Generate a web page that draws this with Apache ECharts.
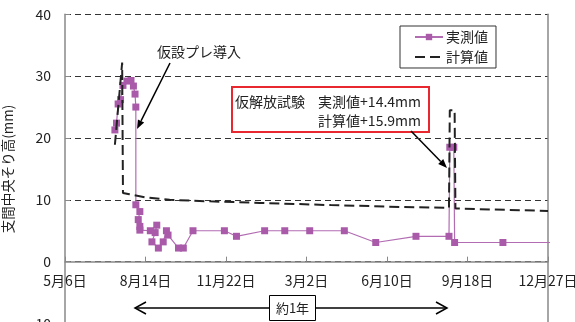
<!DOCTYPE html>
<html>
<head>
<meta charset="utf-8">
<script src="https://cdn.jsdelivr.net/npm/echarts@6/dist/echarts.min.js"></script>
<style>
  html, body { margin: 0; padding: 0; background: #fff; }
  #chart { width: 575px; height: 322px; }
</style>
</head>
<body>
<div id="chart"></div>
<script>
// Day offsets are counted from 5月6日 (day 0); axis ticks every 100 days.
const axisTickDays = [0, 100, 200, 300, 400, 500, 600];

// 実測値 (measured camber at mid-span, mm)
const measuredDays = [62, 64, 66, 69, 72, 77, 82, 85, 87, 88,
                      88, 93, 91, 93, 93, 106, 114, 112, 108, 116,
                      122, 126, 128, 141, 147, 159, 198, 213, 248, 273,
                      304, 347, 386, 436, 477, 478, 483, 484, 544, 620];
const measuredValues = [21.3, 22.4, 25.5, 26.2, 28.5, 29.2, 29.3, 28.4, 27.1, 25.0,
                        9.2, 8.1, 6.8, 5.7, 5.1, 5.0, 5.9, 4.7, 3.2, 2.2,
                        3.2, 5.0, 4.3, 2.2, 2.2, 5.0, 5.0, 4.1, 5.0, 5.0,
                        5.0, 5.0, 3.1, 4.1, 4.1, 18.5, 18.5, 3.1, 3.1, 3.1];

// 計算値 (calculated camber, mm)
const calcDays = [62, 71, 72, 80, 100, 130, 180, 242, 330, 416, 477, 478, 484, 485, 600];
const calcValues = [18.9, 32.2, 11.1, 10.9, 10.4, 10.0, 9.75, 9.5, 9.15, 8.85, 8.7, 24.5, 24.5, 8.6, 8.2];

const Y_MIN = -10, Y_MAX = 40;
const GRID_TOP = 14.3, GRID_HEIGHT = 309.2;
// the date axis sits on the zero line, so lift it from the grid bottom
const ZERO_OFFSET = -GRID_HEIGHT * (0 - Y_MIN) / (Y_MAX - Y_MIN);

const FONT = '"Noto Sans CJK JP", "Noto Sans", sans-serif';
const PURPLE = '#A95BA9';

function dayLabel(v) {
  const d = new Date(2008, 4, 6 + v);
  return (d.getMonth() + 1) + '月' + d.getDate() + '日';
}

// arrow: straight shaft plus a head at (x2, y2)
function arrow(x1, y1, x2, y2, headLen, headHalf, filled) {
  const dx = x2 - x1, dy = y2 - y1;
  const len = Math.sqrt(dx * dx + dy * dy);
  const ux = dx / len, uy = dy / len;
  const bx = x2 - ux * headLen, by = y2 - uy * headLen;
  const px = -uy * headHalf, py = ux * headHalf;
  const head = [[bx + px, by + py], [x2, y2], [bx - px, by - py]];
  const items = [{
    type: 'line',
    shape: { x1: x1, y1: y1, x2: filled ? bx : x2, y2: filled ? by : y2 },
    style: { stroke: '#000', lineWidth: 1.5 }
  }];
  if (filled) {
    items.push({ type: 'polygon', shape: { points: head }, style: { fill: '#000' } });
  } else {
    items.push({ type: 'polyline', shape: { points: head }, style: { stroke: '#000', lineWidth: 1.5, fill: null } });
  }
  return items;
}

const chart = echarts.init(document.getElementById('chart'), null, { renderer: 'canvas' });

const graphics = []
  .concat([{
    type: 'text', left: 157, top: 45,
    style: { text: '仮設プレ導入', font: '14px ' + FONT, fill: '#222' }
  }])
  .concat(arrow(170, 63, 137, 129, 9, 3.5, true))
  .concat([{
    type: 'rect', shape: { x: 232, y: 87, width: 197, height: 45 },
    style: { fill: '#fff', stroke: '#E8282E', lineWidth: 2 }
  }, {
    type: 'text', x: 235, y: 102,
    style: { text: '仮解放試験', font: '14px ' + FONT, fill: '#222', textVerticalAlign: 'middle' }
  }, {
    type: 'text', x: 421, y: 102,
    style: { text: '実測値+14.4mm', font: '14px ' + FONT, fill: '#222', textAlign: 'right', textVerticalAlign: 'middle' }
  }, {
    type: 'text', x: 421, y: 121,
    style: { text: '計算値+15.9mm', font: '14px ' + FONT, fill: '#222', textAlign: 'right', textVerticalAlign: 'middle' }
  }])
  .concat(arrow(411, 131, 447, 168, 9, 3.5, true))
  .concat(arrow(269, 308, 135, 308, 11, 6, false))
  .concat(arrow(315, 308, 447, 308, 11, 6, false))
  .concat([{
    type: 'rect', shape: { x: 269.5, y: 295.5, width: 46, height: 25 },
    style: { fill: '#fff', stroke: '#000', lineWidth: 1 }
  }, {
    type: 'text', x: 292.5, y: 308,
    style: { text: '約1年', font: '13px ' + FONT, fill: '#222', textAlign: 'center', textVerticalAlign: 'middle' }
  }]);

chart.setOption({
  animation: false,
  textStyle: { fontFamily: FONT },
  grid: { left: 65, width: 483, top: GRID_TOP, height: GRID_HEIGHT, containLabel: false, outerBoundsMode: 'none' },
  legend: {
    orient: 'vertical',
    left: 400, top: 26,
    width: 105,
    padding: [4, 8, 4, 14],
    itemGap: 6,
    itemWidth: 28, itemHeight: 8,
    borderColor: '#333', borderWidth: 1,
    backgroundColor: '#fff',
    textStyle: { fontSize: 14, color: '#222', fontFamily: FONT, padding: [0, 0, 0, -2] },
    data: ['実測値', { name: '計算値', itemStyle: { opacity: 0 } }]
  },
  xAxis: {
    type: 'value',
    min: axisTickDays[0],
    max: axisTickDays[axisTickDays.length - 1],
    interval: 100,
    position: 'bottom',
    offset: ZERO_OFFSET,
    axisLine: { onZero: false, lineStyle: { color: '#888', width: 1.5 } },
    axisTick: { inside: true, length: 5, lineStyle: { color: '#888' } },
    axisLabel: { margin: 12, fontSize: 14, color: '#222', formatter: dayLabel, showMaxLabel: true, showMinLabel: true },
    splitLine: { show: false }
  },
  yAxis: [{
    type: 'value',
    min: Y_MIN, max: Y_MAX, interval: 10,
    name: '支間中央そり高(mm)',
    nameLocation: 'middle',
    nameGap: 50,
    nameRotate: 90,
    nameTextStyle: { fontSize: 13.5, color: '#222' },
    axisLine: { show: true, lineStyle: { color: '#888', width: 1.5 } },
    axisTick: { show: true, inside: true, length: 5, lineStyle: { color: '#888' } },
    axisLabel: { margin: 14, fontSize: 14, color: '#222' },
    splitLine: { show: true, lineStyle: { color: '#333', width: 1, type: [6, 4] } }
  }, {
    type: 'value',
    position: 'right',
    min: Y_MIN, max: Y_MAX, interval: 10,
    axisLine: { show: true, onZero: false, lineStyle: { color: '#888', width: 1.5 } },
    axisTick: { show: false },
    axisLabel: { show: false },
    splitLine: { show: false }
  }],
  series: [{
    name: '実測値',
    type: 'line',
    data: measuredDays.map((d, i) => [d, measuredValues[i]]),
    symbol: 'rect',
    symbolSize: 7,
    itemStyle: { color: PURPLE },
    lineStyle: { color: '#B26CB2', width: 1.2 },
    z: 3
  }, {
    name: '計算値',
    type: 'line',
    data: calcDays.map((d, i) => [d, calcValues[i]]),
    symbol: 'none',
    itemStyle: { color: '#222' },
    lineStyle: { color: '#222', width: 2, type: [10, 5] },
    z: 4
  }],
  graphic: graphics
});
</script>
</body>
</html>
